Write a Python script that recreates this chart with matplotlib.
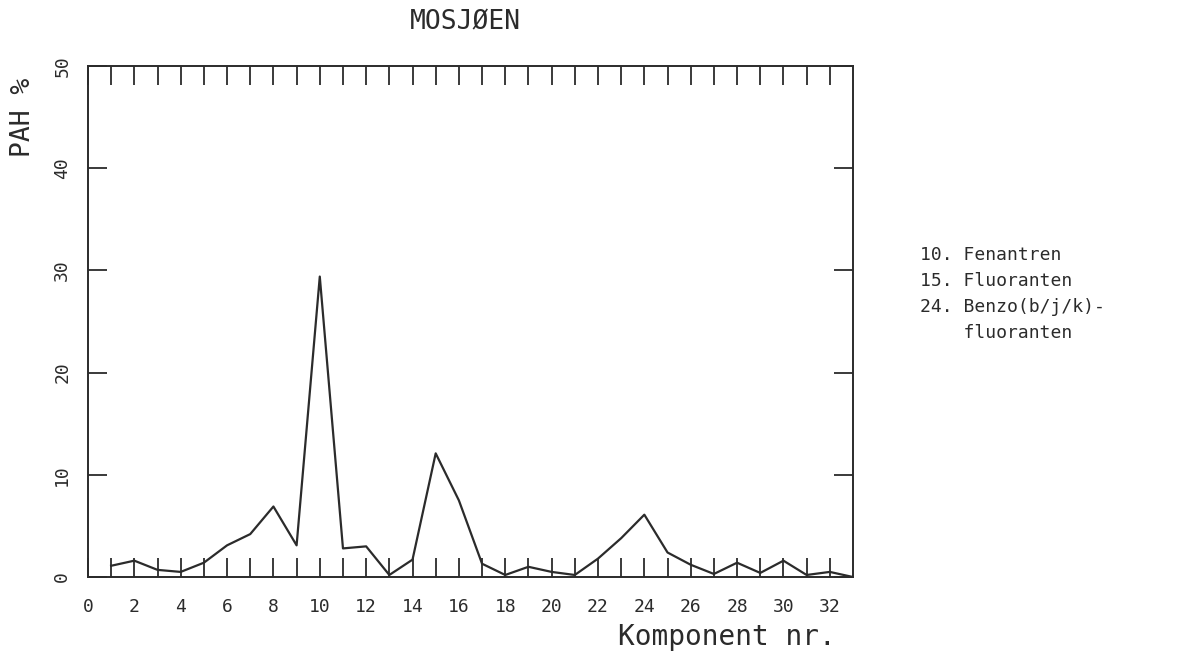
import matplotlib
matplotlib.use("Agg")
import matplotlib.pyplot as plt

# PAH profile, Mosjøen
komponent = list(range(1, 34))
pah_pct = [1.1, 1.6, 0.7, 0.5, 1.4, 3.1, 4.2, 6.9, 3.1, 29.4,
           2.8, 3.0, 0.2, 1.7, 12.1, 7.5, 1.3, 0.2, 1.0, 0.5,
           0.2, 1.8, 3.8, 6.1, 2.4, 1.2, 0.3, 1.4, 0.4, 1.6,
           0.2, 0.5, 0.0]

x_ticks = list(range(0, 33))
x_labels = [str(v) if v % 2 == 0 else "" for v in x_ticks]
y_ticks = [0, 10, 20, 30, 40, 50]
legend_lines = ["10. Fenantren", "15. Fluoranten",
                "24. Benzo(b/j/k)-", "    fluoranten"]

plt.rcParams["font.family"] = ["DejaVu Sans Mono"]
ink = "#2b2b2b"

fig = plt.figure(figsize=(11.95, 6.59), dpi=100)
ax = fig.add_axes([0.0736, 0.1244, 0.6402, 0.7754])

ax.plot(komponent, pah_pct, color=ink, lw=1.6)

ax.set_xlim(0, 33)
ax.set_ylim(0, 50)
ax.set_xticks(x_ticks)
ax.set_xticklabels(x_labels)
ax.set_yticks(y_ticks)
ax.set_yticklabels([str(v) for v in y_ticks], rotation=90, va="center")

ax.tick_params(axis="x", direction="in", length=14, width=1.3, color=ink,
               top=True, bottom=True, labelsize=13, pad=15, labelcolor=ink)
ax.tick_params(axis="y", direction="in", length=14, width=1.3, color=ink,
               left=True, right=True, labelsize=13, pad=12, labelcolor=ink)
for s in ax.spines.values():
    s.set_color(ink)
    s.set_linewidth(1.4)

fig.text(465 / 1195, 1 - 22 / 659, "MOSJØEN", ha="center", va="center",
         fontsize=19, color=ink)
fig.text(23 / 1195, 1 - 117 / 659, "PAH %", rotation=90, ha="center",
         va="center", fontsize=19, color=ink)
fig.text(727 / 1195, 1 - 637 / 659, "Komponent nr.", ha="center",
         va="center", fontsize=20, color=ink)

for i, line in enumerate(legend_lines):
    fig.text(920 / 1195, 1 - (255 + 26 * i) / 659, line, ha="left",
             va="center", fontsize=13, color=ink)

fig.savefig("out.png", dpi=100)
